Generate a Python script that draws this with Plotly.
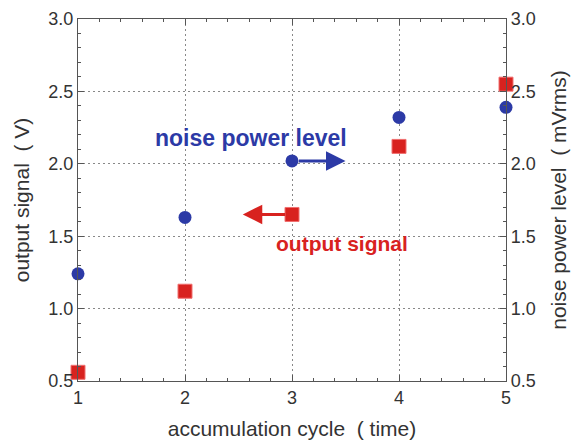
import plotly.graph_objects as go

cycles = [1, 2, 3, 4, 5]
output_signal = [0.56, 1.12, 1.65, 2.12, 2.55]
noise_power = [1.24, 1.63, 2.02, 2.32, 2.39]

RED = "#d8221f"
BLUE = "#2c3aa6"
FONT = "Liberation Sans, Arial, sans-serif"
NB = "\u00a0"
GRID = "#888"

fig = go.Figure()
fig.add_trace(go.Scatter(x=cycles, y=output_signal, mode="markers",
                         marker=dict(symbol="square", size=14, color=RED,
                                     line=dict(color="#f07070", width=1)),
                         cliponaxis=False, yaxis="y", showlegend=False))
fig.add_trace(go.Scatter(x=cycles, y=noise_power, mode="markers",
                         marker=dict(symbol="circle", size=13, color=BLUE),
                         cliponaxis=False, yaxis="y2", showlegend=False))

axis_common = dict(showline=True, linecolor="#555", linewidth=1.2,
                   ticks="inside", ticklen=6, tickcolor="#555",
                   tickfont=dict(size=18, color="#333", family=FONT),
                   zeroline=False, automargin=False)
title_font = dict(size=21, family=FONT, color="#333")

fig.update_layout(
    width=579, height=443,
    margin=dict(l=78, r=73, t=19, b=62),
    paper_bgcolor="white", plot_bgcolor="white",
    font=dict(family=FONT, color="#333"),
    xaxis=dict(range=[1, 5], tickvals=[1, 2, 3, 4, 5], mirror="ticks",
               showgrid=True, gridcolor=GRID, griddash="2px,3px", gridwidth=1,
               minor=dict(dtick=0.2, ticks="inside", ticklen=3, tickcolor="#555", showgrid=False),
               title=dict(text="accumulation cycle" + NB * 2 + "(" + NB + "time)", font=title_font, standoff=14),
               **axis_common),
    yaxis=dict(range=[0.5, 3.0], tickvals=[0.5, 1.0, 1.5, 2.0, 2.5, 3.0],
               tickformat=".1f", showgrid=True, gridcolor=GRID, griddash="2px,3px", gridwidth=1,
               minor=dict(dtick=0.1, ticks="inside", ticklen=3, tickcolor="#555", showgrid=False),
               title=dict(text="output signal" + NB * 2 + "(" + NB + "V)", font=title_font, standoff=12),
               **axis_common),
    yaxis2=dict(range=[0.5, 3.0], tickvals=[0.5, 1.0, 1.5, 2.0, 2.5, 3.0],
                tickformat=".1f", overlaying="y", side="right", showgrid=False,
                minor=dict(dtick=0.1, ticks="inside", ticklen=3, tickcolor="#555", showgrid=False),
                title=dict(text="noise power level" + NB * 2 + "(" + NB + "mVrms)", font=title_font, standoff=16),
                **axis_common),
)

# arrows
fig.add_annotation(x=3.5, y=noise_power[2], ax=3.05, ay=noise_power[2],
                   xref="x", yref="y2", axref="x", ayref="y2",
                   showarrow=True, arrowhead=2, arrowsize=1.3, arrowwidth=3,
                   arrowcolor=BLUE, text="")
fig.add_annotation(x=2.54, y=output_signal[2], ax=2.95, ay=output_signal[2],
                   xref="x", yref="y", axref="x", ayref="y",
                   showarrow=True, arrowhead=2, arrowsize=1.3, arrowwidth=3,
                   arrowcolor=RED, text="")
# labels
fig.add_annotation(x=2.62, y=2.18, xref="x", yref="y", showarrow=False,
                   text="<b>noise power level</b>", font=dict(size=23, color=BLUE, family=FONT))
fig.add_annotation(x=3.47, y=1.45, xref="x", yref="y", showarrow=False,
                   text="<b>output signal</b>", font=dict(size=21, color=RED, family=FONT))

fig.write_html("out.html")
